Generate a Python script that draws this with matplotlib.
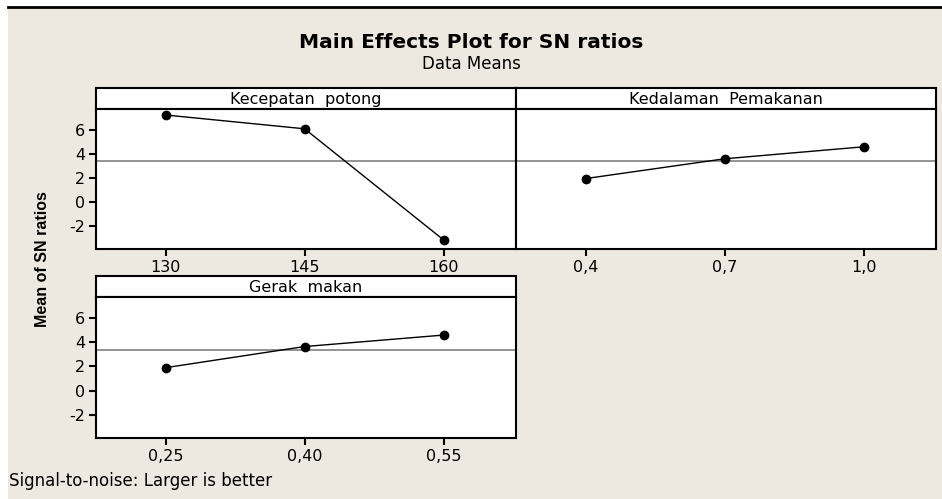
import numpy as np
import matplotlib
matplotlib.use("Agg")
import matplotlib.pyplot as plt
from matplotlib import font_manager

plt.rcParams["axes.unicode_minus"] = False

# Main effects data (means of SN ratios per factor level)
speed_levels = ["130", "145", "160"]
speed_sn = [7.25, 6.1, -3.17]

depth_levels = ["0,4", "0,7", "1,0"]
depth_sn = [1.95, 3.6, 4.6]

feed_levels = ["0,25", "0,40", "0,55"]
feed_sn = [1.9, 3.65, 4.6]

panel_titles = ["Kecepatan  potong", "Kedalaman  Pemakanan", "Gerak  makan"]
y_ticks = [-2, 0, 2, 4, 6]

W, H = 942, 499
BG = "#eee9e0"

# condensed bold face for the y label if it is installed
names = {f.name for f in font_manager.fontManager.ttflist}
ylab_family = "Liberation Sans Narrow" if "Liberation Sans Narrow" in names else "Liberation Sans"

fig = plt.figure(figsize=(W / 100, H / 100), dpi=100)
fig.patch.set_facecolor("white")


def rect(x0, y0, x1, y1):
    return [x0 / W, 1 - y1 / H, (x1 - x0) / W, (y1 - y0) / H]


# beige page with black rule at top
page = fig.add_axes(rect(8, 8, W, H))
page.set_facecolor(BG)
page.set_xticks([]); page.set_yticks([])
for s in page.spines.values():
    s.set_visible(False)
fig.add_artist(plt.Line2D([8 / W, 1], [1 - 7 / H, 1 - 7 / H], color="black", lw=2))

grand_mean = np.mean(speed_sn)


def panel(x0, y0, x1, y1, title, levels, values, show_y):
    strip = fig.add_axes(rect(x0, y0, x1, y0 + 21))
    strip.set_facecolor("white")
    strip.set_xticks([]); strip.set_yticks([])
    for s in strip.spines.values():
        s.set_linewidth(1.5)
    strip.text(0.5, 0.47, title, ha="center", va="center", fontsize=11.5,
               transform=strip.transAxes)

    ax = fig.add_axes(rect(x0, y0 + 21, x1, y1))
    ax.set_facecolor("white")
    x = np.arange(len(levels))
    ax.axhline(grand_mean, color="#808080", lw=1.2, zorder=1)
    ax.plot(x, values, color="black", lw=1.0, marker="o", ms=6, zorder=3)
    ax.set_xlim(-0.5, 2.52)
    ax.set_ylim(-3.92, 7.75)
    ax.set_xticks(x)
    ax.set_xticklabels(levels)
    ax.set_yticks(y_ticks)
    ax.tick_params(direction="out", length=5, width=1.5, labelsize=11.5, pad=3)
    if not show_y:
        ax.tick_params(axis="y", left=False, labelleft=False)
    for s in ax.spines.values():
        s.set_linewidth(1.5)
    return ax


panel(96, 88, 516, 249, panel_titles[0], speed_levels, speed_sn, True)
panel(516, 88, 936, 249, panel_titles[1], depth_levels, depth_sn, False)
panel(96, 276, 516, 438, panel_titles[2], feed_levels, feed_sn, True)

fig.text(471 / W, 1 - 42 / H, "Main Effects Plot for SN ratios", ha="center",
         va="center", fontsize=14.5, fontweight="bold")
fig.text(471 / W, 1 - 64 / H, "Data Means", ha="center", va="center", fontsize=12)
fig.text(43 / W, 1 - 259 / H, "Mean of SN ratios", ha="center", va="center",
         rotation=90, fontsize=11.5, fontweight="bold", family=ylab_family)
fig.text(9 / W, 1 - 481 / H, "Signal-to-noise: Larger is better", ha="left",
         va="center", fontsize=12)

fig.savefig("out.png", dpi=100, facecolor=fig.get_facecolor())
